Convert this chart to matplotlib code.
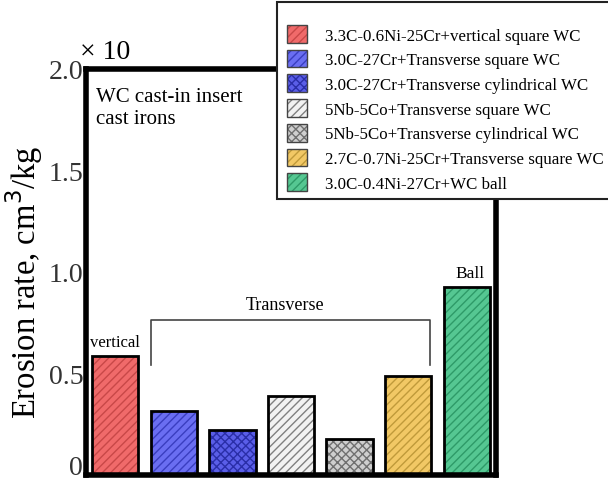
import matplotlib.pyplot as plt
import numpy as np
from matplotlib.patches import Patch, Rectangle
from matplotlib.transforms import offset_copy

plt.rcParams['font.family'] = ['Liberation Serif', 'DejaVu Serif']
plt.rcParams['hatch.linewidth'] = 1.0

# erosion rate of each WC cast-in insert iron
labels = ['3.3C-0.6Ni-25Cr+vertical square WC',
          '3.0C-27Cr+Transverse square WC',
          '3.0C-27Cr+Transverse cylindrical WC',
          '5Nb-5Co+Transverse square WC',
          '5Nb-5Co+Transverse cylindrical WC',
          '2.7C-0.7Ni-25Cr+Transverse square WC',
          '3.0C-0.4Ni-27Cr+WC ball']
rates = [0.585, 0.315, 0.22, 0.39, 0.175, 0.49, 0.925]
fills = ['#f06a6a', '#6a6ef2', '#5a5ee8', '#f2f2f2', '#cfcfcf', '#f2c865', '#55c792']
hatch_cols = ['#c84848', '#3a3ec0', '#2a2ea8', '#808080', '#707070', '#c09a3a', '#2e9a68']
hatches = ['////', '////', 'xxxx', '////', 'xxxx', '////', '////']

fig = plt.figure(figsize=(6.08, 4.81), dpi=100)
ax = fig.add_axes([0.1414, 0.0104, 0.6743, 0.8441])

x = np.arange(len(rates))
for i in range(len(rates)):
    ax.bar(x[i], rates[i], width=0.79, color=fills[i], edgecolor=hatch_cols[i],
           hatch=hatches[i], linewidth=0, zorder=2)
    ax.bar(x[i], rates[i], width=0.79, fill=False, edgecolor='black',
           linewidth=2, zorder=3)

# legend box runs past the right edge of the figure
fig.add_artist(Rectangle((0.4556, 0.5842), 0.56, 0.4096, transform=fig.transFigure,
                         facecolor='white', edgecolor='#222222', linewidth=1.5,
                         zorder=5))
handles = [Patch(facecolor=fills[i], edgecolor='#444444', hatch=hatches[i],
                 linewidth=1) for i in range(len(rates))]
leg = fig.legend(handles, labels, loc='upper left', bbox_to_anchor=(0.472, 0.946),
                 fontsize=12.2, frameon=False, handlelength=1.18, handleheight=1.24,
                 labelspacing=0.36, handletextpad=1.05, borderpad=0, borderaxespad=0)
leg.set_zorder(6)
for h, c in zip(leg.legend_handles, hatch_cols):
    h._hatch_color = plt.matplotlib.colors.to_rgba(c)

ax.set_xlim(-0.5, 6.5)
ax.set_ylim(0, 2.0)
ax.set_xticks([])
ax.set_yticks([0, 0.5, 1.0, 1.5, 2.0])
ax.set_yticklabels(['0', '0.5', '1.0', '1.5', '2.0'], fontsize=20)
ax.tick_params(axis='y', length=0, pad=2, colors='#333333')
zero = ax.get_yticklabels()[0]
zero.set_transform(offset_copy(zero.get_transform(), fig=fig, y=10, units='dots'))
for s in ax.spines.values():
    s.set_linewidth(4)
ax.set_ylabel('Erosion rate, cm$^3$/kg', fontsize=23.5)
ax.yaxis.set_label_coords(-0.1, 0.478)
ax.text(-0.015, 1.012, '× 10', transform=ax.transAxes, fontsize=20, clip_on=False,
        va='bottom', ha='left')

ax.text(0.025, 0.955, 'WC cast-in insert\ncast irons', transform=ax.transAxes,
        fontsize=15, va='top', ha='left', linespacing=1.2)

# group annotations
ax.text(0, rates[0] + 0.03, 'vertical', ha='center', va='bottom', fontsize=12)
ax.text(6.05, rates[6] + 0.03, 'Ball', ha='center', va='bottom', fontsize=12.5)
ax.plot([0.61, 0.61, 5.38, 5.38], [0.54, 0.765, 0.765, 0.54], color='#444444',
        lw=1.2, zorder=4)
ax.text(2.9, 0.8, 'Transverse', ha='center', va='bottom', fontsize=13)

fig.savefig('out.png', dpi=100)
